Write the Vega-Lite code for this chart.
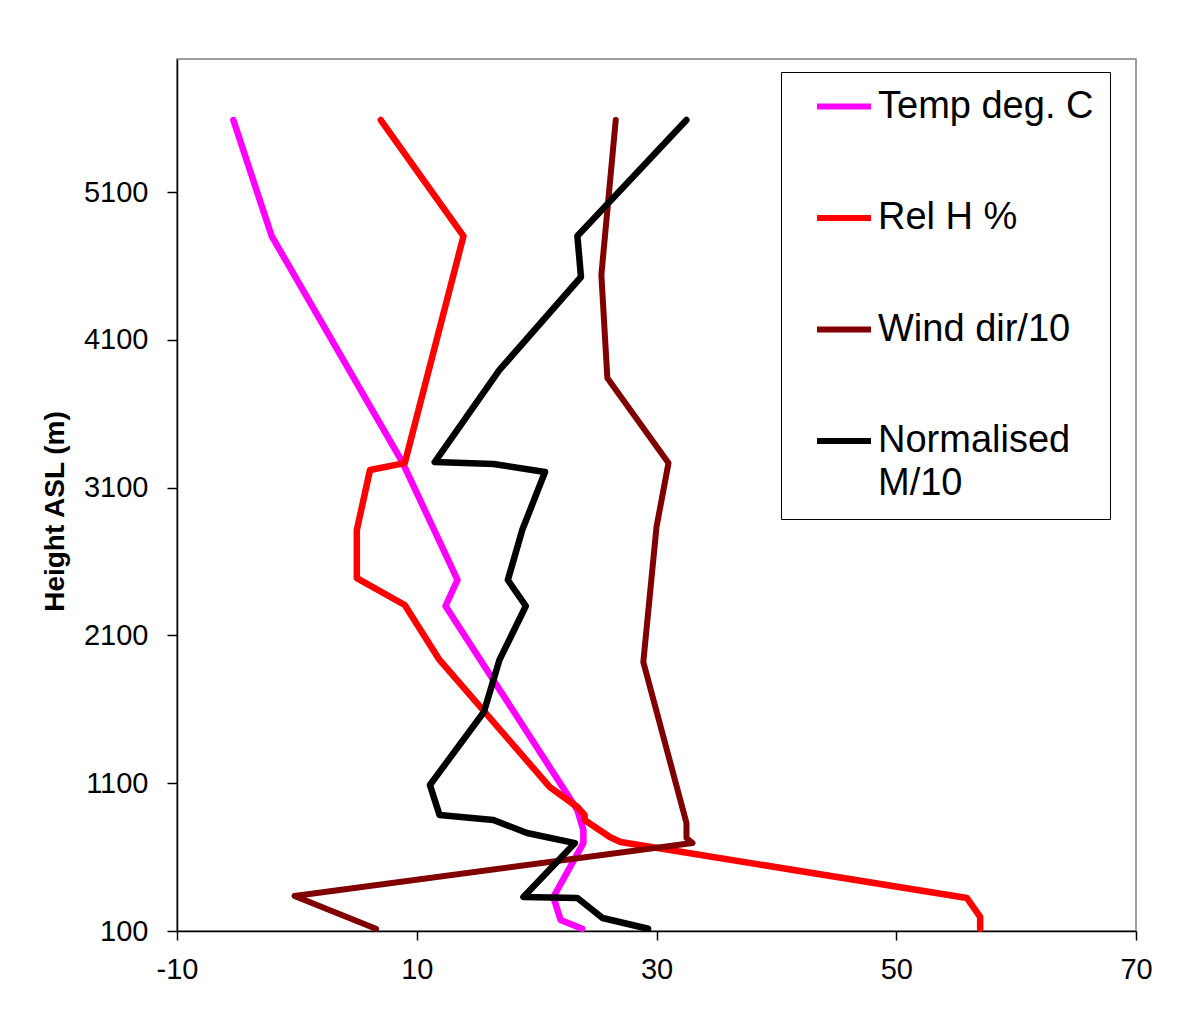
{
  "$schema": "https://vega.github.io/schema/vega-lite/v6.json",
  "width": 959,
  "height": 872,
  "autosize": "none",
  "padding": {"left": 177, "top": 59, "right": 67, "bottom": 86},
  "background": "white",
  "config": {
    "view": {"stroke": "#808080", "strokeWidth": 1.5},
    "font": "Liberation Sans",
    "axis": {
      "grid": false,
      "domainColor": "#000000",
      "domainWidth": 1.5,
      "tickColor": "#000000",
      "tickWidth": 1.5,
      "labelColor": "#000000",
      "labelFont": "Liberation Sans",
      "labelFontSize": 29,
      "titleColor": "#000000"
    }
  },
  "datasets": {
    "profiles": [
      {"s": "Temp deg. C", "i": 0, "x": -5.3, "h": 5587},
      {"s": "Temp deg. C", "i": 1, "x": -2.1, "h": 4802},
      {"s": "Temp deg. C", "i": 2, "x": 8.8, "h": 3273},
      {"s": "Temp deg. C", "i": 3, "x": 13.4, "h": 2475},
      {"s": "Temp deg. C", "i": 4, "x": 12.4, "h": 2299},
      {"s": "Temp deg. C", "i": 5, "x": 23.4, "h": 919},
      {"s": "Temp deg. C", "i": 6, "x": 23.9, "h": 783},
      {"s": "Temp deg. C", "i": 7, "x": 23.9, "h": 695},
      {"s": "Temp deg. C", "i": 8, "x": 21.4, "h": 330},
      {"s": "Temp deg. C", "i": 9, "x": 22.0, "h": 174},
      {"s": "Temp deg. C", "i": 10, "x": 23.8, "h": 115},

      {"s": "Rel H %", "i": 0, "x": 7.0, "h": 5587},
      {"s": "Rel H %", "i": 1, "x": 13.9, "h": 4802},
      {"s": "Rel H %", "i": 2, "x": 9.0, "h": 3266},
      {"s": "Rel H %", "i": 3, "x": 6.1, "h": 3219},
      {"s": "Rel H %", "i": 4, "x": 5.0, "h": 2813},
      {"s": "Rel H %", "i": 5, "x": 5.0, "h": 2488},
      {"s": "Rel H %", "i": 6, "x": 9.0, "h": 2306},
      {"s": "Rel H %", "i": 7, "x": 11.9, "h": 1934},
      {"s": "Rel H %", "i": 8, "x": 21.1, "h": 1074},
      {"s": "Rel H %", "i": 9, "x": 23.4, "h": 939},
      {"s": "Rel H %", "i": 10, "x": 24.0, "h": 885},
      {"s": "Rel H %", "i": 11, "x": 24.0, "h": 851},
      {"s": "Rel H %", "i": 12, "x": 26.1, "h": 736},
      {"s": "Rel H %", "i": 13, "x": 27.0, "h": 702},
      {"s": "Rel H %", "i": 14, "x": 55.9, "h": 323},
      {"s": "Rel H %", "i": 15, "x": 57.0, "h": 195},
      {"s": "Rel H %", "i": 16, "x": 57.0, "h": 115},

      {"s": "Wind  dir/10", "i": 0, "x": 26.6, "h": 5587},
      {"s": "Wind  dir/10", "i": 1, "x": 25.4, "h": 4539},
      {"s": "Wind  dir/10", "i": 2, "x": 25.9, "h": 3842},
      {"s": "Wind  dir/10", "i": 3, "x": 31.0, "h": 3266},
      {"s": "Wind  dir/10", "i": 4, "x": 30.0, "h": 2833},
      {"s": "Wind  dir/10", "i": 5, "x": 28.9, "h": 1920},
      {"s": "Wind  dir/10", "i": 6, "x": 32.5, "h": 831},
      {"s": "Wind  dir/10", "i": 7, "x": 32.5, "h": 729},
      {"s": "Wind  dir/10", "i": 8, "x": 33.0, "h": 695},
      {"s": "Wind  dir/10", "i": 9, "x": -0.2, "h": 337},
      {"s": "Wind  dir/10", "i": 10, "x": 6.6, "h": 115},

      {"s": "Normalised M/10", "i": 0, "x": 32.5, "h": 5587},
      {"s": "Normalised M/10", "i": 1, "x": 23.4, "h": 4802},
      {"s": "Normalised M/10", "i": 2, "x": 23.7, "h": 4525},
      {"s": "Normalised M/10", "i": 3, "x": 16.9, "h": 3896},
      {"s": "Normalised M/10", "i": 4, "x": 11.5, "h": 3273},
      {"s": "Normalised M/10", "i": 5, "x": 16.4, "h": 3260},
      {"s": "Normalised M/10", "i": 6, "x": 20.7, "h": 3206},
      {"s": "Normalised M/10", "i": 7, "x": 18.8, "h": 2813},
      {"s": "Normalised M/10", "i": 8, "x": 17.6, "h": 2475},
      {"s": "Normalised M/10", "i": 9, "x": 19.1, "h": 2299},
      {"s": "Normalised M/10", "i": 10, "x": 16.9, "h": 1934},
      {"s": "Normalised M/10", "i": 11, "x": 15.6, "h": 1582},
      {"s": "Normalised M/10", "i": 12, "x": 11.1, "h": 1088},
      {"s": "Normalised M/10", "i": 13, "x": 11.9, "h": 885},
      {"s": "Normalised M/10", "i": 14, "x": 16.4, "h": 851},
      {"s": "Normalised M/10", "i": 15, "x": 19.2, "h": 763},
      {"s": "Normalised M/10", "i": 16, "x": 23.2, "h": 695},
      {"s": "Normalised M/10", "i": 17, "x": 18.9, "h": 330},
      {"s": "Normalised M/10", "i": 18, "x": 23.4, "h": 323},
      {"s": "Normalised M/10", "i": 19, "x": 25.5, "h": 188},
      {"s": "Normalised M/10", "i": 20, "x": 29.3, "h": 115}
    ]
  },
  "data": {"name": "profiles"},
  "encoding": {
    "x": {
      "field": "x",
      "type": "quantitative",
      "scale": {"domain": [-10, 70], "nice": false, "zero": false},
      "axis": {
        "title": null,
        "values": [-10, 10, 30, 50, 70],
        "labelExpr": "datum.value + ''",
        "tickSize": 9,
        "labelPadding": 15,
        "labelFlush": false
      }
    },
    "y": {
      "field": "h",
      "type": "quantitative",
      "scale": {"domain": [100, 6000], "nice": false, "zero": false},
      "axis": {
        "title": "Height ASL (m)",
        "values": [100, 1100, 2100, 3100, 4100, 5100],
        "labelExpr": "datum.value + ''",
        "tickSize": 10,
        "labelPadding": 19,
        "labelFlush": false,
        "titleFont": "Liberation Sans",
        "titleFontSize": 28,
        "titleFontWeight": "bold",
        "titleAngle": 270,
        "titleAlign": "center",
        "titleBaseline": "middle",
        "titleX": -122,
        "titleY": 452
      }
    },
    "order": {"field": "i", "type": "quantitative"},
    "color": {
      "field": "s",
      "type": "nominal",
      "scale": {
        "domain": ["Temp deg. C", "Rel H %", "Wind  dir/10", "Normalised M/10"],
        "range": ["#FF00FF", "#FF0000", "#800000", "#000000"]
      },
      "legend": {
        "title": null,
        "orient": "none",
        "legendX": 604,
        "legendY": 13,
        "padding": 16,
        "strokeColor": "#000000",
        "fillColor": "#ffffff",
        "symbolType": "stroke",
        "symbolSize": 2916,
        "symbolStrokeWidth": 6,
        "symbolOffset": 17,
        "clipHeight": 37,
        "labelOffset": 4,
        "labelFont": "Liberation Sans",
        "labelFontSize": 38,
        "labelColor": "#000000",
        "labelLimit": 500,
        "labelBaseline": "middle",
        "rowPadding": 72.5,
        "labelExpr": "datum.label == 'Normalised M/10' ? ['Normalised', 'M/10'] : datum.label",
        "encode": {
          "labels": {
            "update": {
              "lineHeight": {"value": 43}
            }
          }
        }
      }
    }
  },
  "layer": [
    {"transform": [{"filter": "datum.s == 'Temp deg. C'"}], "mark": {"type": "line", "strokeWidth": 6.5, "strokeCap": "round", "strokeJoin": "round"}},
    {"transform": [{"filter": "datum.s == 'Rel H %'"}], "mark": {"type": "line", "strokeWidth": 6.5, "strokeCap": "round", "strokeJoin": "round"}},
    {"transform": [{"filter": "datum.s == 'Wind  dir/10'"}], "mark": {"type": "line", "strokeWidth": 6, "strokeCap": "round", "strokeJoin": "round"}},
    {"transform": [{"filter": "datum.s == 'Normalised M/10'"}], "mark": {"type": "line", "strokeWidth": 6.5, "strokeCap": "round", "strokeJoin": "round"}}
  ]
}
